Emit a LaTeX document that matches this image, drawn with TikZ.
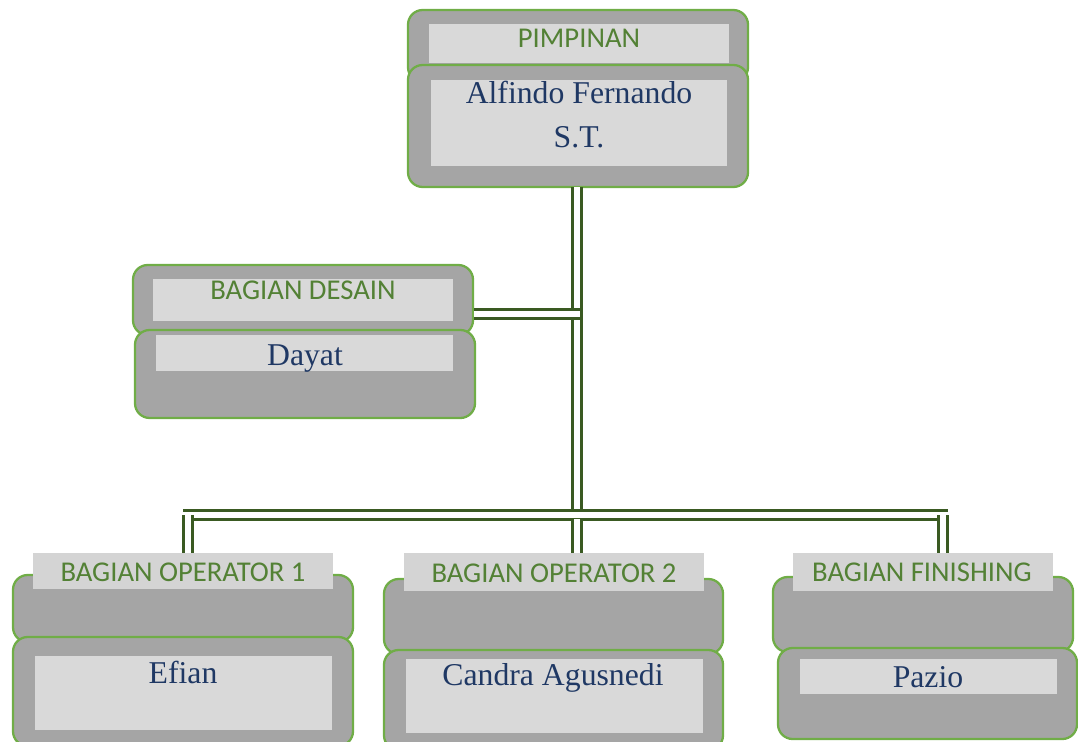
\documentclass[tikz,border=0pt]{standalone}
\usepackage{fontspec}
\setmainfont{Liberation Serif}
\newfontfamily\titlefont{Carlito}
\usetikzlibrary{fit,calc}
\definecolor{boxgray}{HTML}{A5A5A5}
\definecolor{boxgreen}{HTML}{70AD47}
\definecolor{lightfill}{HTML}{D9D9D9}
\definecolor{labelfill}{HTML}{D4D4D4}
\definecolor{titlegreen}{HTML}{538135}
\definecolor{nameblue}{HTML}{1F3864}
\definecolor{linegreen}{HTML}{3A5A22}
\begin{document}
\begin{tikzpicture}[x=0.75pt,y=-0.75pt,
  outerbox/.style={draw=boxgreen, fill=boxgray, line width=1.7pt, rounded corners=11pt, inner sep=0pt},
  innerbox/.style={fill=lightfill, draw=none, inner sep=0pt},
  labelbox/.style={fill=labelfill, draw=none, inner sep=0pt},
  titletext/.style={font=\titlefont\fontsize{21.5}{26}\selectfont, text=titlegreen, anchor=base, inner sep=0pt},
  nametext/.style={font=\fontsize{23.8}{32.3}\selectfont, text=nameblue, anchor=base, inner sep=0pt, align=center},
  conn/.style={draw=linegreen, line width=1.6pt, double=white, double distance=5.2pt}]
\useasboundingbox (0,0) rectangle (1078,742);

% ---------- PIMPINAN ----------
\node[outerbox, fit={(408,10) (748,82)}] (pimtop) {};
\node[innerbox, fit={(429,24) (729,63)}] (pimtopin) {};
\node[outerbox, fit={(408,65) (748,187)}] (pimbot) {};
\node[innerbox, fit={(431,80) (727,166)}] (pimbotin) {};
\node[titletext] (pimtitle) at (579,48) {PIMPINAN};
\node[nametext] (pimname) at (579,147) {Alfindo Fernando\\S.T.};

% ---------- BAGIAN DESAIN ----------
\node[outerbox, fit={(133,265) (473,335)}] (destop) {};
\node[innerbox, fit={(153,279) (453,321)}] (destopin) {};
\node[outerbox, fit={(135,330) (475,418)}] (desbot) {};
\node[innerbox, fit={(156,335) (453,371)}] (desbotin) {};
\node[titletext] (destitle) at (303,299) {BAGIAN DESAIN};
\node[nametext] (desname) at (305,365) {Dayat};

% ---------- BAGIAN OPERATOR 1 ----------
\node[outerbox, fit={(13,575) (353,642)}] (opatop) {};
\node[outerbox, fit={(13,637) (353,746)}] (opabot) {};
\node[innerbox, fit={(35,656) (332,730)}] (opabotin) {};
\node[labelbox, fit={(33,553) (333,589)}] (opalabel) {};
\node[titletext] (opatitle) at (183,581) {BAGIAN OPERATOR 1};
\node[nametext] (opaname) at (183,683) {Efian};

% ---------- BAGIAN OPERATOR 2 ----------
\node[outerbox, fit={(384,579) (723,654)}] (opbtop) {};
\node[outerbox, fit={(384,650) (723,750)}] (opbbot) {};
\node[innerbox, fit={(406,659) (703,733)}] (opbbotin) {};
\node[labelbox, fit={(404,553) (704,591)}] (opblabel) {};
\node[titletext] (opbtitle) at (554,582) {BAGIAN OPERATOR 2};
\node[nametext] (opbname) at (553,685) {Candra Agusnedi};

% ---------- BAGIAN FINISHING ----------
\node[outerbox, fit={(773,577) (1073,652)}] (fintop) {};
\node[outerbox, fit={(778,648) (1077,739)}] (finbot) {};
\node[innerbox, fit={(800,659) (1057,694)}] (finbotin) {};
\node[labelbox, fit={(793,553) (1053,591)}] (finlabel) {};
\node[titletext] (fintitle) at (922,581) {BAGIAN FINISHING};
\node[nametext] (finname) at (928,687) {Pazio};

% ---------- connectors ----------
\coordinate (hL) at (183,515);
\coordinate (hR) at (948,515);
\coordinate (dA) at (188,515);
\coordinate (dC) at (943,515);
\coordinate (dj) at (474,314);
\coordinate (vx) at (577,187);

\draw[conn] (vx) -- (vx |- hL);
\draw[conn] (dj) -- ($(dj -| vx)+(3,0)$);
\draw[conn] (hL) -- (hR);
\draw[conn] (dA) -- (dA |- opalabel.north);
\draw[conn] ($(vx |- hL)+(0,4)$) -- (vx |- opblabel.north);
\draw[conn] (dC) -- (dC |- finlabel.north);
\end{tikzpicture}
\end{document}
